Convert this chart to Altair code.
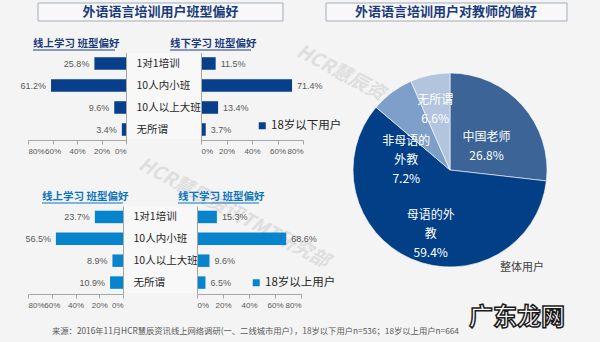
import altair as alt
import pandas as pd

# ---------------- data ----------------
categories = ["1对1培训", "10人内小班", "10人以上大班", "无所谓"]
online_under18 = [25.8, 61.2, 9.6, 3.4]
offline_under18 = [11.5, 71.4, 13.4, 3.7]
online_over18 = [23.7, 56.5, 8.9, 10.9]
offline_over18 = [15.3, 68.6, 9.6, 6.5]
series_names = ["18岁以下用户", "18岁以上用户"]
tick_values = [0, 20, 40, 60, 80]

teacher_names = ["中国老师", "母语的外教", "非母语的外教", "无所谓"]
teacher_values = [26.8, 59.4, 7.2, 6.6]
teacher_label_text = ["中国老师", "母语的外\n教", "非母语的\n外教", "无所谓"]

title_left = "外语语言培训用户班型偏好"
title_right = "外语语言培训用户对教师的偏好"
sub_online = "线上学习 班型偏好"
sub_offline = "线下学习 班型偏好"
pie_caption = "整体用户"
footer = "来源：2016年11月HCR慧辰资讯线上网络调研(一、二线城市用户），18岁以下用户n=536；18岁以上用户n=664"
watermark = "HCR慧辰资讯TMT研究部"
logo = "广东龙网"

# ---------------- style ----------------
FONT = "Noto Sans CJK SC"
NUMFONT = "Liberation Sans"
W, H = 600, 342
BG = "#f4f4f4"
AX = "#a6a6a6"
LBL = "#595959"
NAVY = "#073f8b"
SKY = "#0884cd"
TITLE_BLUE = "#1b3c7c"
pie_colors = ["#3c6496", "#033f86", "#7f9fcb", "#b3c4df"]

one = alt.Data(values=[{}])


def text_at(txt, x, y, size, color, weight="normal", align="center", angle=0, style="normal", **kw):
    return alt.Chart(one).mark_text(
        text=txt, font=FONT, fontSize=size, color=color, fontWeight=weight,
        align=align, baseline="middle", angle=angle, fontStyle=style, **kw
    ).encode(x=alt.value(x), y=alt.value(y))


def box(x1, x2, y1, y2, fill, stroke=None):
    kw = dict(fill=fill)
    if stroke:
        kw.update(stroke=stroke, strokeWidth=1)
    return alt.Chart(one).mark_rect(**kw).encode(
        x=alt.value(x1), x2=alt.value(x2), y=alt.value(y1), y2=alt.value(y2))


def underline(x1, x2, y, color):
    return alt.Chart(one).mark_rule(color=color, strokeWidth=1).encode(
        x=alt.value(x1), x2=alt.value(x2), y=alt.value(y))


def panel(values, color, x_range, y_range, axis_y, cat_axis_x, side,
          series=None, label_x=None, legend_xy=None):
    df = pd.DataFrame({
        "cat": categories,
        "v": values,
        "series": series or "",
        "label": [f"{v:.1f}%" for v in values],
    })
    xs = alt.Scale(domain=[0, 80], range=x_range, nice=False, zero=True)
    ys = alt.Scale(domain=categories, range=y_range, paddingInner=0.43, paddingOuter=0.215)
    xaxis = alt.Axis(orient="bottom", offset=axis_y - H, values=tick_values,
                     labelExpr="datum.value + '%'", title=None, grid=False,
                     domainColor=AX, tickColor=AX, tickSize=4, labelFont=NUMFONT,
                     labelFontSize=8, labelColor=LBL, labelPadding=3,
                     labelOverlap=False, zindex=1)
    if side == "left":
        yaxis = alt.Axis(orient="left", offset=-cat_axis_x, labels=False, ticks=False,
                         title=None, grid=False, domainColor=AX, zindex=1)
    else:
        yaxis = alt.Axis(orient="left", offset=-cat_axis_x, ticks=False, title=None,
                         grid=False, domainColor=AX, labelAlign="left",
                         labelPadding=cat_axis_x - label_x, labelFont=FONT,
                         labelFontSize=10.5, labelColor="#262626", labelBaseline="middle",
                         labelOverlap=False, labelLimit=0, zindex=1)
    enc = dict(
        x=alt.X("v:Q", scale=xs, axis=xaxis),
        y=alt.Y("cat:N", scale=ys, axis=yaxis, sort=categories),
    )
    if legend_xy is not None:
        enc["color"] = alt.Color(
            "series:N", scale=alt.Scale(domain=[series], range=[color]),
            legend=alt.Legend(orient="none", legendX=legend_xy[0], legendY=legend_xy[1],
                              title=None, symbolType="square", symbolSize=49,
                              symbolStrokeWidth=0, labelFont=FONT, labelFontSize=11.5,
                              labelColor="#262626", labelOffset=3, padding=0))
        bars = alt.Chart(df).mark_bar().encode(**enc)
    else:
        bars = alt.Chart(df).mark_bar(color=color).encode(**enc)
    if side == "left":
        tmark = dict(align="right", dx=-5)
    else:
        tmark = dict(align="left", dx=5)
    labels = alt.Chart(df).mark_text(font=NUMFONT, fontSize=9, color=LBL,
                                     baseline="middle", **tmark).encode(
        x=alt.X("v:Q", scale=xs, axis=None),
        y=alt.Y("cat:N", scale=ys, axis=None, sort=categories),
        text="label:N",
    )
    return [bars, labels]


layers = []

# background watermarks
layers.append(text_at(watermark, 140, 163, 19, "#dedede", weight="bold", align="left",
                      angle=28, style="italic"))
layers.append(text_at(watermark, 298, 50, 19, "#dedede", weight="bold", align="left",
                      angle=28, style="italic"))

# title boxes
layers.append(box(38, 283, 3, 21, "#f8f8f8", "#a3abbb"))
layers.append(text_at(title_left, 160.5, 12, 13, TITLE_BLUE, weight="bold"))
layers.append(box(326, 567, 3, 21, "#f8f8f8", "#a3abbb"))
layers.append(text_at(title_right, 446, 12, 13, TITLE_BLUE, weight="bold"))

# category label boxes
layers.append(box(127, 200, 53, 139, "#f8f8f8"))
layers.append(box(123, 196, 206, 293, "#f8f8f8"))

# subtitles
layers.append(text_at(sub_online, 33, 44, 10.5, TITLE_BLUE, weight="bold", align="left"))
layers.append(underline(33, 115, 50, TITLE_BLUE))
layers.append(text_at(sub_offline, 170, 44, 10.5, TITLE_BLUE, weight="bold", align="left"))
layers.append(underline(170, 251, 50, TITLE_BLUE))
layers.append(text_at(sub_online, 42, 197, 10.5, "#0b74c2", weight="bold", align="left"))
layers.append(underline(42, 123, 203, "#0b74c2"))
layers.append(text_at(sub_offline, 178, 197, 10.5, "#0b74c2", weight="bold", align="left"))
layers.append(underline(178, 259, 203, "#0b74c2"))

# bar panels
layers += panel(online_under18, NAVY, [126, 28], [52.5, 140.5], 140, 126, "left")
layers += panel(offline_under18, NAVY, [201, 303], [52.5, 140.5], 140, 201, "right",
                series=series_names[0], label_x=136, legend_xy=(256.5, 120))
layers += panel(online_over18, SKY, [123, 28], [206, 293.5], 294, 123, "left")
layers += panel(offline_over18, SKY, [197, 301], [206, 293.5], 294, 197, "right",
                series=series_names[1], label_x=133, legend_xy=(250.5, 277))

# pie
pie_df = pd.DataFrame({
    "name": teacher_names,
    "v": teacher_values,
    "idx": list(range(len(teacher_names))),
    "label": [f"{t}\n{v}%" for t, v in zip(teacher_label_text, teacher_values)],
})
theta = alt.Theta("v:Q", stack=True)
order = alt.Order("idx:Q")
CX, CY = 450, 170
layers.append(alt.Chart(pie_df).mark_arc(radius=97, stroke="#ffffff", strokeWidth=0.6).encode(
    theta=theta, order=order,
    color=alt.Color("name:N", scale=alt.Scale(domain=teacher_names, range=pie_colors), legend=None),
    x=alt.value(CX), y=alt.value(CY),
))
pie_label_style = {
    "中国老师": dict(radius=49),
    "母语的外教": dict(radius=48.5),
    "非母语的外教": dict(radius=53, dx=-12, dy=13),
    "无所谓": dict(radius=72),
}
for name, st in pie_label_style.items():
    layers.append(alt.Chart(pie_df).transform_calculate(
        t=f"datum.name == '{name}' ? datum.label : ''"
    ).mark_text(font=FONT, fontSize=12, color="#ffffff", lineBreak="\n", lineHeight=19,
                align="center", baseline="middle", **st).encode(
        theta=theta, order=order, text="t:N",
        x=alt.value(CX), y=alt.value(CY),
    ))
layers.append(text_at(pie_caption, 522, 268, 11, "#404040"))

# footer and logo
layers.append(text_at(footer, 52, 332, 8.3, "#595959", align="left"))
layers.append(text_at(logo, 517, 318, 24, "#ffffff", weight="bold",
                      stroke="#1a1a1a", strokeWidth=1.5))

chart = alt.layer(*layers).resolve_scale(
    x="independent", y="independent", color="independent", theta="independent"
).resolve_axis(x="independent", y="independent").resolve_legend(color="independent").properties(
    width=W, height=H, autosize=alt.AutoSizeParams(type="none"), padding=0, background=BG
).configure_view(stroke=None)

chart.save("out.html", embed_options={"renderer": "svg", "actions": False})
